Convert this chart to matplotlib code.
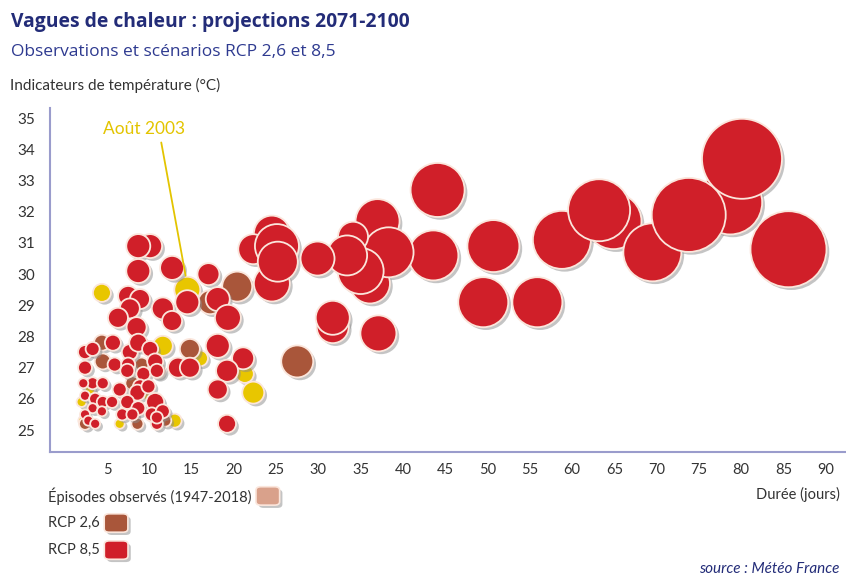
import matplotlib
matplotlib.use("Agg")
import matplotlib.pyplot as plt
import matplotlib.patheffects as pe
from matplotlib.patches import FancyBboxPatch

# Episodes observes (1947-2018) : duree (jours), temperature (degC), taille de bulle
obs_duree = [4.4, 11.6, 21.3, 22.3, 16.0, 13.0, 3.0, 2.0, 2.2, 6.5, 9.9, 14.5]
obs_temp = [29.4, 27.7, 26.8, 26.2, 27.3, 25.3, 26.3, 25.9, 25.3, 25.2, 26.1, 29.5]
obs_taille = [9, 10, 9, 11, 8, 7, 5, 5, 5, 5, 5, 13]

# RCP 2,6
rcp26_duree = [20.4, 17.2, 27.5, 14.8, 4.4, 4.5, 9.1, 8.0, 2.4, 8.6, 11.9, 11.0]
rcp26_temp = [29.6, 29.1, 27.2, 27.6, 27.8, 27.2, 27.1, 26.5, 25.2, 25.2, 25.3, 26.9]
rcp26_taille = [15, 12, 16, 10, 8, 8, 7, 7, 6, 6, 6, 8]

# RCP 8,5
rcp85_duree = [
    44.1, 43.6, 50.7, 49.5, 55.9, 58.8, 64.9, 63.2, 69.5, 78.7, 73.8, 80.1, 85.6,
    37.0, 36.1, 38.3, 35.0, 34.1, 33.4, 29.9, 24.5, 22.3, 24.5, 25.1, 25.2,
    31.7, 31.7, 37.1,
    17.0, 18.1, 19.3, 18.1, 21.1, 19.2, 18.1, 19.2,
    10.1, 8.7, 8.7, 12.7, 7.5, 8.9, 7.7, 6.3, 8.5, 11.6, 12.7, 14.5, 13.4, 14.8,
    2.4, 3.3, 5.7, 7.7, 8.7, 10.1, 2.4, 5.9, 7.5, 10.7, 7.4, 9.3, 10.9,
    3.3, 2.2, 4.5, 8.9, 6.5, 8.6, 9.9, 2.4, 3.6, 4.5, 5.6, 7.4, 8.7, 10.7,
    3.3, 4.4, 2.4, 6.8, 8.0, 10.3, 11.6, 2.8, 3.6, 10.9, 10.9,
]
rcp85_temp = [
    32.7, 30.6, 30.9, 29.1, 29.1, 31.1, 31.7, 32.05, 30.7, 32.3, 31.9, 33.7, 30.8,
    31.7, 29.7, 30.7, 30.1, 31.2, 30.6, 30.5, 31.3, 30.8, 29.7, 30.9, 30.4,
    28.3, 28.6, 28.1,
    30.0, 29.2, 28.6, 27.7, 27.3, 26.9, 26.3, 25.2,
    30.9, 30.9, 30.1, 30.2, 29.3, 29.2, 28.9, 28.6, 28.3, 28.9, 28.5, 29.1, 27.0, 27.0,
    27.5, 27.6, 27.8, 27.5, 27.8, 27.6, 27.0, 27.1, 27.1, 27.2, 26.9, 26.8, 26.9,
    26.5, 26.5, 26.5, 26.4, 26.3, 26.2, 26.4, 26.1, 26.0, 25.9, 25.9, 25.9, 25.7, 25.9,
    25.7, 25.6, 25.5, 25.5, 25.5, 25.5, 25.6, 25.3, 25.2, 25.2, 25.4,
]
rcp85_taille = [
    27, 25, 26, 25, 25, 29, 28, 31, 29, 32, 37, 40, 38,
    22, 20, 25, 23, 15, 20, 17, 18, 15, 18, 22, 20,
    16, 17, 18,
    11, 12, 13, 12, 11, 11, 10, 9,
    12, 12, 12, 12, 10, 10, 10, 10, 10, 11, 10, 12, 10, 10,
    7, 7, 8, 8, 9, 8, 7, 7, 7, 8, 7, 7, 7,
    6, 5, 6, 7, 7, 8, 7, 5, 6, 6, 6, 7, 7, 9,
    5, 5, 5, 6, 6, 7, 7, 5, 5, 6, 6,
]

x_ticks = [5, 10, 15, 20, 25, 30, 35, 40, 45, 50, 55, 60, 65, 70, 75, 80, 85, 90]
y_ticks = [25, 26, 27, 28, 29, 30, 31, 32, 33, 34, 35]

navy = "#232c78"
gray = "#333333"
c_obs = "#e8c600"
c_obs_leg = "#d9a18b"
c_26 = "#a9563a"
c_85 = "#d01f29"
edge = "#fbe6dc"

plt.rcParams["font.family"] = ["Lato", "DejaVu Sans"]

fig = plt.figure(figsize=(8.46, 5.76), dpi=100)
ax = fig.add_axes([0.059, 0.215, 0.941, 0.597])

shadow = [pe.SimplePatchShadow(offset=(2, -2), shadow_rgbFace="#8a8a8a", alpha=0.5),
          pe.Normal()]


def taille_pts(r):
    return [(2 * v * 0.72) ** 2 for v in r]


for dur, tmp, tl, col in [(obs_duree, obs_temp, obs_taille, c_obs),
                          (rcp26_duree, rcp26_temp, rcp26_taille, c_26),
                          (rcp85_duree, rcp85_temp, rcp85_taille, c_85)]:
    sc = ax.scatter(dur, tmp, s=taille_pts(tl), c=col, edgecolors=edge,
                    linewidths=1.3, clip_on=False)
    sc.set_path_effects(shadow)

ax.set_xlim(-1.75, 92.4)
ax.set_ylim(24.29, 35.32)
ax.set_xticks(x_ticks)
ax.set_yticks(y_ticks)
ax.tick_params(length=0, labelsize=10.5, labelcolor=gray)
ax.tick_params(axis="x", pad=8)
ax.tick_params(axis="y", pad=17, labelsize=11)
for lab in ax.get_yticklabels():
    lab.set_horizontalalignment("center")
for s in ["top", "right"]:
    ax.spines[s].set_visible(False)
for s in ["left", "bottom"]:
    ax.spines[s].set_color("#9a9ccc")
    ax.spines[s].set_linewidth(1.5)

ax.annotate("Août 2003", xy=(14.3, 29.95), xytext=(4.5, 34.4),
            color="#e3c400", fontsize=12.5, va="bottom",
            arrowprops=dict(arrowstyle="-", color="#e3c400", lw=1.3,
                            shrinkA=2, shrinkB=0, relpos=(0.7, 0)))

fig.text(0.013, 0.962, "Vagues de chaleur : projections 2071-2100", color=navy,
         fontsize=13.9, fontweight="bold", family=["Open Sans", "DejaVu Sans"],
         va="center")
fig.text(0.013, 0.91, "Observations et scénarios RCP 2,6 et 8,5", color="#2e3a90",
         fontsize=12.5, family=["Open Sans", "DejaVu Sans"], va="center")
fig.text(0.012, 0.852, "Indicateurs de température (°C)", color=gray,
         fontsize=11, va="center")
fig.text(0.993, 0.142, "Durée (jours)", color=gray, fontsize=10.5,
         ha="right", va="center")
fig.text(0.826, 0.012, "source : Météo France", color=navy, fontsize=11,
         style="italic", va="center")

legende = [("Épisodes observés (1947-2018)", c_obs_leg, 0.139),
           ("RCP 2,6", c_26, 0.092),
           ("RCP 8,5", c_85, 0.045)]
for lab, col, yy in legende:
    t = fig.text(0.057, yy, lab, color=gray, fontsize=10.5, va="center")
    fig.canvas.draw()
    bb = t.get_window_extent().transformed(fig.transFigure.inverted())
    box = FancyBboxPatch((bb.x1 + 0.005, yy - 0.016), 0.028, 0.032,
                         boxstyle="round,pad=0,rounding_size=0.006",
                         transform=fig.transFigure, facecolor=col,
                         edgecolor=edge, linewidth=1.2)
    box.set_path_effects(shadow)
    fig.add_artist(box)

fig.savefig("out.png", dpi=100)
